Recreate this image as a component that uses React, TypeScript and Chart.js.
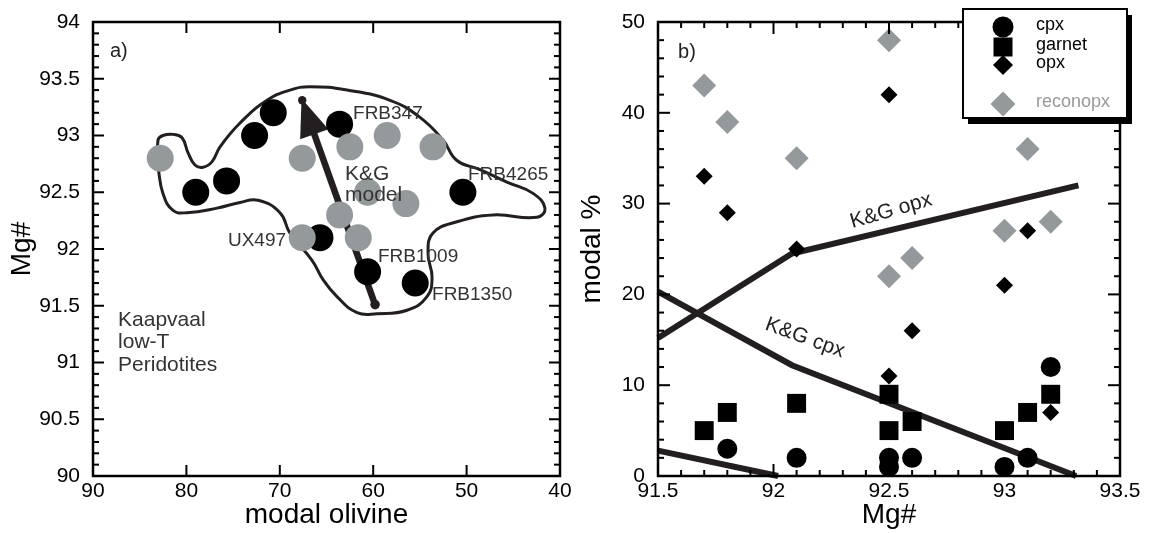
import React, { useEffect, useRef } from "react";
import { Chart, registerables } from "chart.js";

Chart.register(...registerables);

const FONT = '"Liberation Sans", Arial, Helvetica, sans-serif';
const GRAY = "#949a9b";
const INK = "#231f20";

// ---------------- Panel a) data ----------------
const leftXTicks = [90, 80, 70, 60, 50, 40];
const leftYTicks = [90, 90.5, 91, 91.5, 92, 92.5, 93, 93.5, 94];

const blackOlivine = [79, 75.7, 72.7, 70.7, 63.6, 50.4, 65.7, 60.6, 55.5];
const blackMg = [92.5, 92.6, 93.0, 93.2, 93.1, 92.5, 92.1, 91.8, 91.7];

const grayOlivine = [82.8, 67.6, 62.5, 58.5, 53.6, 60.6, 56.5, 63.6, 67.6, 61.6];
const grayMg = [92.8, 92.8, 92.9, 93.0, 92.9, 92.5, 92.4, 92.3, 92.1, 92.1];

const fieldOlivine = [
  83.04, 83.04, 82.51, 81.43, 80.47, 79.83, 79.08, 78.22, 77.25, 76.4, 74.26, 71.37,
  68.91, 66.77, 62.81, 58.2, 54.99, 52.53, 51.03, 48.57, 45.68, 42.89, 41.61, 42.46,
  47.17, 51.03, 53.6, 54.13, 53.7, 54.24, 56.38, 59.59, 61.73, 63.88, 65.37, 66.55,
  68.91, 69.98, 72.33, 74.26, 76.72, 79.94, 81.43, 82.51, 83.04,
];
const fieldMg = [
  92.72, 92.96, 93.0, 93.01, 92.98, 92.85, 92.74, 92.72, 92.77, 92.9, 93.11, 93.31,
  93.4, 93.43, 93.4, 93.31, 93.16, 92.96, 92.78, 92.7, 92.59, 92.49, 92.36, 92.28,
  92.3, 92.24, 92.14, 91.96, 91.75, 91.58, 91.46, 91.43, 91.44, 91.58, 91.73, 91.9,
  92.14, 92.32, 92.43, 92.41, 92.36, 92.32, 92.34, 92.49, 92.72,
];

const arrowOlivine = [59.8, 67.6]; // tail, tip
const arrowMg = [91.51, 93.31];

const leftNotes = [
  { text: "a)", x: 88.18, y: 93.74, size: 20, color: "#222" },
  { text: "FRB347", x: 62.16, y: 93.19, size: 19, color: "#333" },
  { text: "FRB4265", x: 49.85, y: 92.65, size: 19, color: "#333" },
  { text: "K&G", x: 63.02, y: 92.66, size: 21, color: "#333" },
  { text: "model", x: 63.02, y: 92.47, size: 21, color: "#333" },
  { text: "UX497", x: 75.55, y: 92.07, size: 19, color: "#333" },
  { text: "FRB1009", x: 59.49, y: 91.93, size: 19, color: "#333" },
  { text: "FRB1350", x: 53.7, y: 91.6, size: 19, color: "#333" },
  { text: "Kaapvaal", x: 87.32, y: 91.37, size: 21, color: "#333" },
  { text: "low-T", x: 87.32, y: 91.18, size: 21, color: "#333" },
  { text: "Peridotites", x: 87.32, y: 90.98, size: 21, color: "#333" },
];

// ---------------- Panel b) data ----------------
const rightXTicks = [91.5, 92, 92.5, 93, 93.5];
const rightYTicks = [0, 10, 20, 30, 40, 50];

const cpxMg = [91.8, 92.1, 92.5, 92.5, 92.6, 93.0, 93.1, 93.2];
const cpxModal = [3, 2, 2, 1, 2, 1, 2, 12];

const garnetMg = [91.7, 91.8, 92.1, 92.5, 92.5, 92.6, 93.0, 93.1, 93.2];
const garnetModal = [5, 7, 8, 9, 5, 6, 5, 7, 9];

const opxMg = [91.7, 91.8, 92.1, 92.5, 92.5, 92.6, 93.0, 93.1, 93.2];
const opxModal = [33, 29, 25, 42, 11, 16, 21, 27, 7];

const reconMg = [91.7, 91.8, 92.1, 92.5, 92.5, 92.6, 93.0, 93.1, 93.2];
const reconModal = [43, 39, 35, 48, 22, 24, 27, 36, 28];

const kgOpxMg = [91.5, 92.08, 93.32];
const kgOpxModal = [15.2, 24.5, 32.0];
const kgCpxMg = [91.5, 92.08, 93.31];
const kgCpxModal = [20.3, 12.2, 0];
const kgLowMg = [91.5, 92.02];
const kgLowModal = [2.8, 0];

const rightNotes = [
  { text: "b)", x: 91.587, y: 46.6, size: 20, color: "#222", rot: 0, align: "left" },
  { text: "K&G opx", x: 92.509, y: 29.2, size: 21, color: "#222", rot: -16, align: "center" },
  { text: "K&G cpx", x: 92.136, y: 15.2, size: 21, color: "#222", rot: 20, align: "center" },
];

const legendItems = [
  { label: "cpx", shape: "circle", color: "#000", textColor: "#000" },
  { label: "garnet", shape: "square", color: "#000", textColor: "#000" },
  { label: "opx", shape: "diamond", color: "#000", textColor: "#000" },
  { label: "reconopx", shape: "bigdiamond", color: GRAY, textColor: "#999" },
];

// ---------------- helpers ----------------
const pts = (xs: number[], ys: number[]) => xs.map((x, i) => ({ x, y: ys[i] }));

function subdivide(major: number[], div: number) {
  const out: number[] = [];
  if (div <= 1) return out;
  for (let i = 0; i < major.length - 1; i++) {
    for (let k = 1; k < div; k++) out.push(major[i] + ((major[i + 1] - major[i]) * k) / div);
  }
  return out;
}

function makeFramePlugin(cfg: any) {
  return {
    id: "frameticks",
    afterDraw(chart: any) {
      const ctx = chart.ctx;
      const area = chart.chartArea;
      const xs = chart.scales.x;
      const ys = chart.scales.y;
      const L = area.left;
      const R = area.right;
      const T = area.top;
      const B = area.bottom;
      ctx.save();
      ctx.fillStyle = "#000";
      const xMinor = subdivide(cfg.xMajor, cfg.xDiv);
      const yMinor = subdivide(cfg.yMajor, cfg.yDiv);
      for (const v of cfg.xMajor) {
        const p = xs.getPixelForValue(v);
        ctx.fillRect(p - 1, B - cfg.majorLen, 2, cfg.majorLen);
        ctx.fillRect(p - 1, T, 2, cfg.majorLen);
      }
      for (const v of xMinor) {
        const p = xs.getPixelForValue(v);
        ctx.fillRect(p - 1, B - cfg.minorLen, 2, cfg.minorLen);
        if (cfg.topMinor) ctx.fillRect(p - 1, T, 2, cfg.minorLen);
      }
      for (const v of cfg.yMajor) {
        const p = ys.getPixelForValue(v);
        ctx.fillRect(L, p - 1, cfg.majorLen, 2);
        ctx.fillRect(R - cfg.majorLen, p - 1, cfg.majorLen, 2);
      }
      for (const v of yMinor) {
        const p = ys.getPixelForValue(v);
        ctx.fillRect(L, p - 1, cfg.minorLen, 2);
        ctx.fillRect(R - cfg.minorLen, p - 1, cfg.minorLen, 2);
      }
      ctx.strokeStyle = "#000";
      ctx.lineWidth = 2.5;
      ctx.strokeRect(L, T, R - L, B - T);
      ctx.restore();
    },
  };
}

function makeNotesPlugin(items: any[]) {
  return {
    id: "notes",
    afterDatasetsDraw(chart: any) {
      const { ctx } = chart;
      const xs = chart.scales.x;
      const ys = chart.scales.y;
      items.forEach((n: any) => {
        const px = xs.getPixelForValue(n.x);
        const py = ys.getPixelForValue(n.y);
        ctx.save();
        ctx.translate(px, py);
        ctx.rotate(((n.rot || 0) * Math.PI) / 180);
        ctx.font = `${n.size}px ${FONT}`;
        ctx.fillStyle = n.color;
        ctx.textAlign = n.align || "left";
        ctx.textBaseline = "middle";
        ctx.fillText(n.text, 0, 0);
        ctx.restore();
      });
    },
  };
}

const arrowPlugin = {
  id: "arrow",
  beforeDatasetsDraw(chart: any) {
    const { ctx } = chart;
    const xs = chart.scales.x;
    const ys = chart.scales.y;
    const tx = xs.getPixelForValue(arrowOlivine[0]);
    const ty = ys.getPixelForValue(arrowMg[0]);
    const hx = xs.getPixelForValue(arrowOlivine[1]);
    const hy = ys.getPixelForValue(arrowMg[1]);
    const dx = hx - tx;
    const dy = hy - ty;
    const len = Math.hypot(dx, dy);
    const ux = dx / len;
    const uy = dy / len;
    const headLen = 36;
    const halfW = 15;
    const bx = hx - ux * headLen;
    const by = hy - uy * headLen;
    const px = -uy;
    const py = ux;
    ctx.save();
    ctx.strokeStyle = INK;
    ctx.fillStyle = INK;
    ctx.lineWidth = 6.5;
    ctx.beginPath();
    ctx.moveTo(tx, ty);
    ctx.lineTo(bx + ux * 2, by + uy * 2);
    ctx.stroke();
    ctx.beginPath();
    ctx.moveTo(hx + ux * 2, hy + uy * 2);
    ctx.lineTo(bx + px * halfW, by + py * halfW);
    ctx.lineTo(bx - px * halfW, by - py * halfW);
    ctx.closePath();
    ctx.fill();
    ctx.beginPath();
    ctx.arc(tx, ty, 4.8, 0, Math.PI * 2);
    ctx.fill();
    ctx.beginPath();
    ctx.arc(hx, hy, 4.2, 0, Math.PI * 2);
    ctx.fill();
    ctx.restore();
  },
};

const legendPlugin = {
  id: "boxlegend",
  afterDraw(chart: any) {
    const { ctx, chartArea } = chart;
    const bw = 164;
    const bh = 109;
    const bx = chartArea.right + 7 - bw;
    const by = 9;
    ctx.save();
    ctx.fillStyle = "#000";
    ctx.fillRect(bx + 5, by + 6, bw, bh);
    ctx.fillStyle = "#fff";
    ctx.fillRect(bx, by, bw, bh);
    ctx.strokeStyle = "#000";
    ctx.lineWidth = 2;
    ctx.strokeRect(bx, by, bw, bh);
    const rowsY = [18, 38, 56, 95];
    const mx = bx + 40;
    legendItems.forEach((it, i) => {
      const my = by + rowsY[i];
      ctx.fillStyle = it.color;
      ctx.beginPath();
      if (it.shape === "circle") {
        ctx.arc(mx, my, 10.5, 0, Math.PI * 2);
      } else if (it.shape === "square") {
        ctx.rect(mx - 9.5, my - 9.5, 19, 19);
      } else {
        const r = it.shape === "bigdiamond" ? 12.5 : 10;
        ctx.moveTo(mx - r, my);
        ctx.lineTo(mx, my - r);
        ctx.lineTo(mx + r, my);
        ctx.lineTo(mx, my + r);
        ctx.closePath();
      }
      ctx.fill();
      ctx.font = `18px ${FONT}`;
      ctx.fillStyle = it.textColor;
      ctx.textAlign = "left";
      ctx.textBaseline = "middle";
      ctx.fillText(it.label, bx + 73, my - 1.5);
    });
    ctx.restore();
  },
};

const tickFont = { family: FONT, size: 21 };
const titleFont = { family: FONT, size: 28, lineHeight: 1 };

function makeAxis(opts: any) {
  return {
    type: "linear",
    min: opts.min,
    max: opts.max,
    reverse: !!opts.reverse,
    grid: { display: false, drawTicks: false },
    border: { display: false },
    afterBuildTicks: (scale: any) => {
      scale.ticks = opts.ticks.map((v: number) => ({ value: v }));
    },
    afterFit: (scale: any) => {
      if (opts.horizontal) scale.height = opts.size;
      else scale.width = opts.size;
      scale.paddingTop = 0;
      scale.paddingBottom = 0;
      scale.paddingLeft = 0;
      scale.paddingRight = 0;
    },
    ticks: {
      autoSkip: false,
      maxRotation: 0,
      minRotation: 0,
      padding: opts.labelPad,
      color: "#000",
      font: tickFont,
      callback: (v: any) => String(v),
    },
    title: {
      display: true,
      text: opts.title,
      color: "#000",
      font: titleFont,
      padding: opts.titlePad,
    },
  };
}

function LeftChart() {
  const ref = useRef<HTMLCanvasElement | null>(null);
  useEffect(() => {
    if (!ref.current) return;
    const chart = new Chart(ref.current, {
      type: "scatter",
      data: {
        datasets: [
          {
            label: "field",
            data: pts(fieldOlivine, fieldMg),
            showLine: true,
            tension: 0.45,
            borderColor: INK,
            borderWidth: 3,
            pointRadius: 0,
            fill: false,
            clip: false,
            order: 3,
          },
          {
            label: "gray",
            data: pts(grayOlivine, grayMg),
            pointRadius: 13.5,
            pointBackgroundColor: GRAY,
            pointBorderWidth: 0,
            borderWidth: 0,
            clip: false,
            order: 1,
          },
          {
            label: "black",
            data: pts(blackOlivine, blackMg),
            pointRadius: 13.5,
            pointBackgroundColor: "#000",
            pointBorderWidth: 0,
            borderWidth: 0,
            clip: false,
            order: 2,
          },
        ],
      },
      options: {
        animation: false,
        responsive: false,
        devicePixelRatio: 1,
        layout: { padding: { top: 22, right: 15, left: 0, bottom: 0 } },
        scales: {
          x: makeAxis({ min: 40, max: 90, reverse: true, ticks: leftXTicks, title: "modal olivine", titlePad: { top: 0, bottom: 4 }, size: 57, horizontal: true, labelPad: 3 }),
          y: makeAxis({ min: 90, max: 94, ticks: leftYTicks, title: "Mg#", titlePad: { top: 8, bottom: 0 }, size: 93, horizontal: false, labelPad: 13 }),
        },
        plugins: { legend: { display: false }, tooltip: { enabled: false } },
      },
      plugins: [
        arrowPlugin,
        makeNotesPlugin(leftNotes),
        makeFramePlugin({ xMajor: leftXTicks, yMajor: leftYTicks, xDiv: 1, yDiv: 5, topMinor: false, majorLen: 11, minorLen: 6 }),
      ],
    } as any);
    return () => chart.destroy();
  }, []);
  return <canvas ref={ref} width={575} height={533} style={{ position: "absolute", left: 0, top: 0 }} />;
}

function RightChart() {
  const ref = useRef<HTMLCanvasElement | null>(null);
  useEffect(() => {
    if (!ref.current) return;
    const lineDs = (label: string, xs: number[], ys: number[]) => ({
      label,
      data: pts(xs, ys),
      showLine: true,
      tension: 0,
      borderColor: INK,
      borderWidth: 6,
      pointRadius: 0,
      fill: false,
      clip: false,
      order: 5,
    });
    const chart = new Chart(ref.current, {
      type: "scatter",
      data: {
        datasets: [
          lineDs("K&G opx", kgOpxMg, kgOpxModal),
          lineDs("K&G cpx", kgCpxMg, kgCpxModal),
          lineDs("K&G low", kgLowMg, kgLowModal),
          { label: "reconopx", data: pts(reconMg, reconModal), pointStyle: "rectRot", pointRadius: 12, pointBackgroundColor: GRAY, pointBorderWidth: 0, borderWidth: 0, clip: false, order: 4 },
          { label: "opx", data: pts(opxMg, opxModal), pointStyle: "rectRot", pointRadius: 8.5, pointBackgroundColor: "#000", pointBorderWidth: 0, borderWidth: 0, clip: false, order: 3 },
          { label: "garnet", data: pts(garnetMg, garnetModal), pointStyle: "rect", pointRadius: 13.4, pointBackgroundColor: "#000", pointBorderWidth: 0, borderWidth: 0, clip: false, order: 2 },
          { label: "cpx", data: pts(cpxMg, cpxModal), pointStyle: "circle", pointRadius: 10, pointBackgroundColor: "#000", pointBorderWidth: 0, borderWidth: 0, clip: false, order: 1 },
        ],
      },
      options: {
        animation: false,
        responsive: false,
        devicePixelRatio: 1,
        layout: { padding: { top: 22, right: 30, left: 0, bottom: 0 } },
        scales: {
          x: makeAxis({ min: 91.5, max: 93.5, ticks: rightXTicks, title: "Mg#", titlePad: { top: 0, bottom: 4 }, size: 57, horizontal: true, labelPad: 3 }),
          y: makeAxis({ min: 0, max: 50, ticks: rightYTicks, title: "modal %", titlePad: { top: 3, bottom: 0 }, size: 83, horizontal: false, labelPad: 13 }),
        },
        plugins: { legend: { display: false }, tooltip: { enabled: false } },
      },
      plugins: [
        makeNotesPlugin(rightNotes),
        makeFramePlugin({ xMajor: rightXTicks, yMajor: rightYTicks, xDiv: 5, yDiv: 5, topMinor: true, majorLen: 12, minorLen: 6 }),
        legendPlugin,
      ],
    } as any);
    return () => chart.destroy();
  }, []);
  return <canvas ref={ref} width={575} height={533} style={{ position: "absolute", left: 575, top: 0 }} />;
}

export default function App() {
  return (
    <div style={{ position: "fixed", left: 0, top: 0, width: 1150, height: 533, background: "#fff", overflow: "hidden" }}>
      <LeftChart />
      <RightChart />
    </div>
  );
}
